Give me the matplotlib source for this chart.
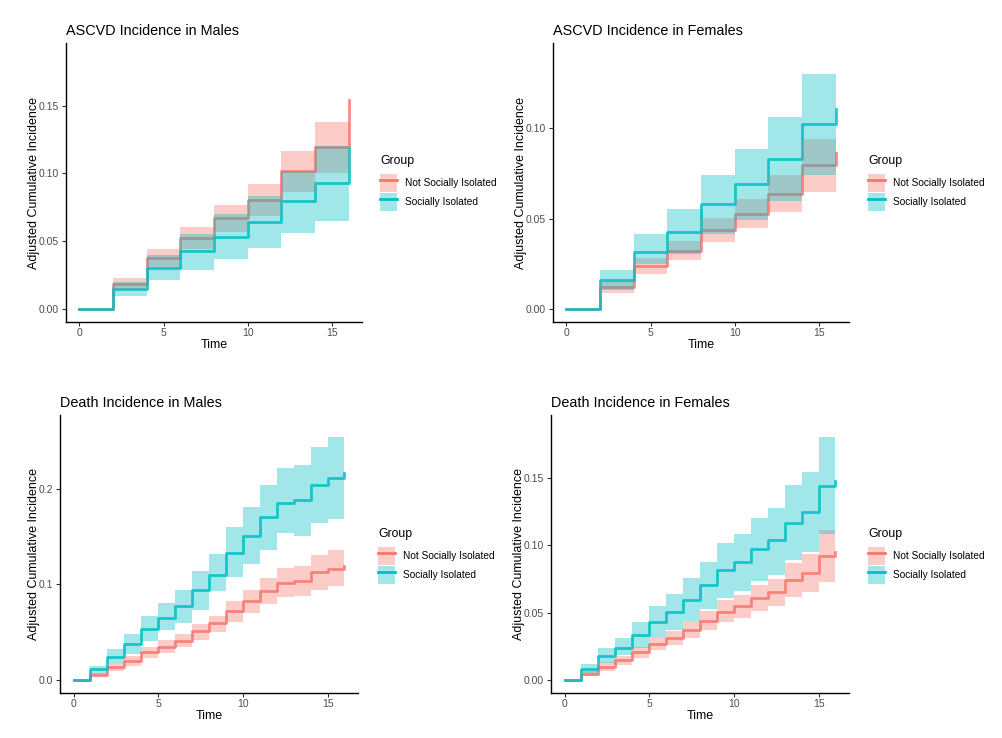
import matplotlib
matplotlib.use("Agg")
import matplotlib.pyplot as plt
from matplotlib.patches import Patch
from matplotlib.lines import Line2D
from matplotlib.legend_handler import HandlerTuple
from matplotlib.ticker import FormatStrFormatter

plt.rcParams['font.family'] = ['Liberation Sans', 'DejaVu Sans']

RED = '#F8766D'
TEAL = '#00BFC4'

# ASCVD, males (steps every 2 years)
t_ascvd = [0, 2, 4, 6, 8, 10, 12, 14, 16]
am_not = [0, 0.0184, 0.0381, 0.0526, 0.0671, 0.0808, 0.1015, 0.1192, 0.154]
am_not_lo = [0, 0.0147, 0.0307, 0.0442, 0.057, 0.0688, 0.086, 0.100]
am_not_hi = [0, 0.0229, 0.0442, 0.0607, 0.0767, 0.092, 0.1167, 0.138]
am_iso = [0, 0.0147, 0.0307, 0.0428, 0.0536, 0.0641, 0.0799, 0.0929, 0.119]
am_iso_lo = [0, 0.0098, 0.0214, 0.0292, 0.0373, 0.0455, 0.0565, 0.065]
am_iso_hi = [0, 0.0204, 0.040, 0.0558, 0.070, 0.0835, 0.102, 0.120]

# ASCVD, females
af_not = [0, 0.0121, 0.0238, 0.0322, 0.0437, 0.0528, 0.0638, 0.0794, 0.086]
af_not_lo = [0, 0.0089, 0.0195, 0.027, 0.0372, 0.0446, 0.0535, 0.0649]
af_not_hi = [0, 0.0154, 0.0284, 0.0375, 0.0506, 0.0608, 0.074, 0.0939]
af_iso = [0, 0.0162, 0.0318, 0.0428, 0.0578, 0.0691, 0.0831, 0.102, 0.1106]
af_iso_lo = [0, 0.0106, 0.0247, 0.0307, 0.0413, 0.0493, 0.0595, 0.0743]
af_iso_hi = [0, 0.0214, 0.0415, 0.0552, 0.0738, 0.0883, 0.106, 0.1297]

# death, males (steps every year)
t_death = list(range(17))
dm_iso = [0, .0118, .0247, .0378, .0535, .0649, .0771, .0938, .110, .1326, .151,
          .170, .185, .188, .204, .211, .2167]
dm_iso_lo = [0, .007, .017, .0274, .041, .052, .0597, .0736, .0927, .1083, .121,
             .136, .154, .1507, .1646, .168]
dm_iso_hi = [0, .0153, .0326, .048, .0667, .0806, .0944, .1139, .132, .1597, .1806,
             .2035, .2215, .2247, .243, .2535]
dm_not = [0, .0052, .0135, .0201, .0292, .0347, .0413, .051, .0597, .0719, .0823,
          .0927, .102, .1035, .1128, .1163, .1194]
dm_not_lo = [0, .0042, .0094, .0153, .0233, .0285, .0347, .0424, .05, .0611, .0701,
             .0795, .0865, .0875, .0944, .098]
dm_not_hi = [0, .0076, .017, .025, .0347, .0417, .0486, .059, .0667, .083, .0944,
             .1066, .117, .1194, .1306, .136]

# death, females
df_iso = [0, .0086, .0178, .0242, .0333, .0434, .0508, .0597, .0705, .0819, .0873,
          .0972, .1036, .1169, .125, .1443, .148]
df_iso_lo = [0, .0054, .0128, .019, .0239, .0316, .0375, .0437, .0528, .0609, .0659,
             .0733, .0782, .0888, .095, .1085]
df_iso_hi = [0, .0121, .0237, .0313, .0429, .0548, .0641, .0757, .088, .1016, .1083,
             .1201, .128, .145, .1547, .1806]
df_not = [0, .0049, .0099, .0153, .021, .0269, .0313, .0375, .0442, .0508, .0548,
          .0609, .0651, .074, .0794, .0918, .0947]
df_not_lo = [0, .003, .0067, .0116, .0165, .0222, .0261, .0311, .037, .0434, .0461,
             .0513, .0548, .0617, .0651, .0725]
df_not_hi = [0, .0072, .0136, .0178, .0247, .0311, .0368, .0437, .0511, .0592, .0629,
             .0708, .0752, .0868, .0937, .1115]

groups = ['Not Socially Isolated', 'Socially Isolated']


def panel(rect, title, t, lines, bands, ylim, yticks, fmt):
    ax = fig.add_axes(rect)
    cols = [RED, TEAL]
    for y, c in zip(lines, cols):
        ax.step(t, y, where='post', color=c, lw=2.0, alpha=0.85, zorder=1)
    for (lo, hi), c in zip(bands, cols):
        ax.fill_between(t, lo + lo[-1:], hi + hi[-1:], step='post',
                        color=c, alpha=0.37, lw=0, zorder=2)
    ax.set_xlim(-0.8, 16.8)
    ax.set_ylim(*ylim)
    ax.set_xticks([0, 5, 10, 15])
    ax.set_yticks(yticks)
    ax.yaxis.set_major_formatter(FormatStrFormatter(fmt))
    for s in ['top', 'right']:
        ax.spines[s].set_visible(False)
    for s in ['left', 'bottom']:
        ax.spines[s].set_linewidth(1.0)
    ax.tick_params(length=3, width=0.8, color='#333333', labelcolor='#4d4d4d',
                   labelsize=7.5, pad=2)
    ax.tick_params(axis='x', pad=1)
    ax.set_title(title, loc='left', fontsize=10.4, pad=6)
    ax.set_xlabel('Time', fontsize=9, labelpad=1)
    ax.set_ylabel('Adjusted Cumulative Incidence', fontsize=9, labelpad=-1)
    return ax


def legend(x, y, ty):
    # y is the top of the first key, ty the centre of the title
    fig.text(x / 1002, 1 - ty / 738, 'Group', fontsize=8.8,
             ha='left', va='center')
    handles = [(Patch(facecolor=RED, alpha=0.37, lw=0), Line2D([], [], color=RED, lw=2)),
               (Patch(facecolor=TEAL, alpha=0.37, lw=0), Line2D([], [], color=TEAL, lw=2))]
    lg = fig.legend(handles, groups, handler_map={tuple: HandlerTuple(ndivide=1)},
                    loc='upper left', bbox_to_anchor=(x / 1002, 1 - y / 738),
                    frameon=False, fontsize=7.3,
                    handlelength=1.68, handleheight=2.3, handletextpad=0.75,
                    labelspacing=0.17, borderpad=0, borderaxespad=0)
    return lg


fig = plt.figure(figsize=(10.02, 7.38), dpi=100)

panel([0.0659, 0.5637, 0.2954, 0.378], 'ASCVD Incidence in Males', t_ascvd,
      [am_not, am_iso], [(am_not_lo, am_not_hi), (am_iso_lo, am_iso_hi)],
      (-0.0093, 0.196), [0, 0.05, 0.10, 0.15], '%.2f')
panel([0.5519, 0.5637, 0.2954, 0.378], 'ASCVD Incidence in Females', t_ascvd,
      [af_not, af_iso], [(af_not_lo, af_not_hi), (af_iso_lo, af_iso_hi)],
      (-0.007, 0.1468), [0, 0.05, 0.10], '%.2f')
panel([0.0599, 0.061, 0.2974, 0.3767], 'Death Incidence in Males', t_death,
      [dm_not, dm_iso], [(dm_not_lo, dm_not_hi), (dm_iso_lo, dm_iso_hi)],
      (-0.0132, 0.2768), [0, 0.1, 0.2], '%.1f')
panel([0.5499, 0.061, 0.2974, 0.3767], 'Death Incidence in Females', t_death,
      [df_not, df_iso], [(df_not_lo, df_not_hi), (df_iso_lo, df_iso_hi)],
      (-0.0094, 0.1966), [0, 0.05, 0.10, 0.15], '%.2f')

legend(380, 174, 161)
legend(868, 174, 161)
legend(378, 547, 534)
legend(868, 547, 534)

fig.savefig('out.png', dpi=100)
